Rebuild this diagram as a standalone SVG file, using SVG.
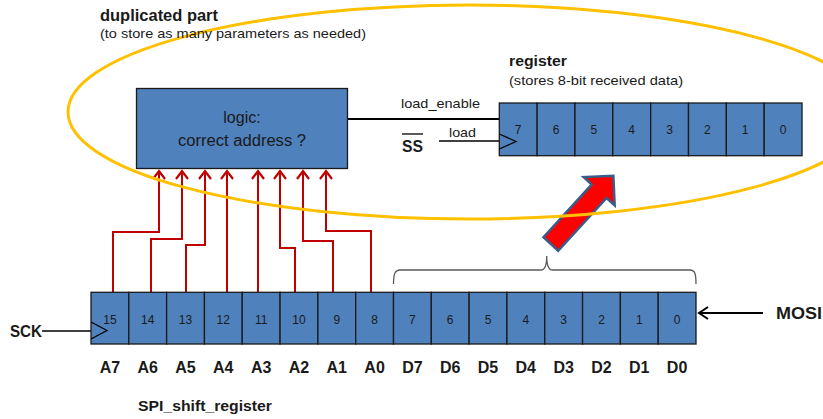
<svg xmlns="http://www.w3.org/2000/svg" width="823" height="419" viewBox="0 0 823 419">
<style>
.cell{fill:#4F81BD;stroke:#1a1a1a;stroke-width:1.3}
.num{font-family:"Liberation Sans",Arial,sans-serif;font-size:12px;fill:#1a1a1a;text-anchor:middle}
.lbl{font-family:"Liberation Sans",Arial,sans-serif;font-size:16px;font-weight:bold;fill:#1a1a1a;text-anchor:middle}
.t{font-family:"Liberation Sans",Arial,sans-serif;fill:#1a1a1a}
.b{font-weight:bold}
.red{fill:none;stroke:#C00000;stroke-width:2;marker-end:url(#chev)}
.blk{fill:none;stroke:#000;stroke-width:1.3}
</style>
<defs>
<marker id="chev" markerUnits="userSpaceOnUse" markerWidth="20" markerHeight="20" refX="0" refY="0" orient="auto" overflow="visible">
<path d="M-8,-6 L0,0 L-8,6" fill="none" stroke="#C00000" stroke-width="2.2"/>
</marker>
<marker id="chevk" markerUnits="userSpaceOnUse" markerWidth="20" markerHeight="20" refX="0" refY="0" orient="auto" overflow="visible">
<path d="M-9,-6 L0,0 L-9,6" fill="none" stroke="#000" stroke-width="2"/>
</marker>
</defs>
<rect width="823" height="419" fill="#fff"/>

<g id="connectors">
<path class="red" d="M113,292 V232 H159 V171"/>
<path class="red" d="M151,292 V239 H182 V171"/>
<path class="red" d="M186,292 V245 H205 V171"/>
<path class="red" d="M227,292 V171"/>
<path class="red" d="M258,292 V171"/>
<path class="red" d="M295,292 V248 H280 V171"/>
<path class="red" d="M333,292 V241 H303 V171"/>
<path class="red" d="M371,292 V231 H326 V171"/>
<line x1="348" y1="119" x2="499" y2="119" stroke="#000" stroke-width="2.2"/>
<line x1="439" y1="141" x2="499" y2="141" class="blk"/>
<line x1="42" y1="331" x2="91" y2="331" class="blk"/>
<line x1="763" y1="313" x2="699" y2="313" stroke="#000" stroke-width="2" marker-end="url(#chevk)"/>
<path d="M393.5,284 C393.5,274 395,270 400,270 H541 C545,270 546.7,266 546.7,256 C546.7,266 548.5,270 552.5,270 H690 C695,270 696,274 696,284" fill="none" stroke="#595959" stroke-width="1.3"/>
<polygon transform="translate(550.8,244) rotate(-47.5)" points="0,-10 71.6,-10 71.6,-21 92.6,0 71.6,21 71.6,10 0,10" fill="#FF0000" stroke="#385D8A" stroke-width="2.5" stroke-linejoin="miter"/>
</g>

<g id="logic">
<rect x="136.5" y="88.5" width="211" height="80" class="cell"/>
<text class="t" x="242" y="123" font-size="16" text-anchor="middle">logic:</text>
<text class="t" x="242" y="145.5" font-size="16" text-anchor="middle" textLength="128" lengthAdjust="spacingAndGlyphs">correct address ?</text>
</g>

<g id="register">
<rect x="499.3" y="103" width="37.84" height="52.7" class="cell"/>
<rect x="537.14" y="103" width="37.84" height="52.7" class="cell"/>
<rect x="574.98" y="103" width="37.84" height="52.7" class="cell"/>
<rect x="612.82" y="103" width="37.84" height="52.7" class="cell"/>
<rect x="650.66" y="103" width="37.84" height="52.7" class="cell"/>
<rect x="688.5" y="103" width="37.84" height="52.7" class="cell"/>
<rect x="726.34" y="103" width="37.84" height="52.7" class="cell"/>
<rect x="764.18" y="103" width="37.84" height="52.7" class="cell"/>
<path d="M499.3,134 L516,141.5 L499.3,149" class="blk"/>
<text class="num" x="518.2" y="134">7</text>
<text class="num" x="556.0" y="134">6</text>
<text class="num" x="593.9" y="134">5</text>
<text class="num" x="631.7" y="134">4</text>
<text class="num" x="669.6" y="134">3</text>
<text class="num" x="707.4" y="134">2</text>
<text class="num" x="745.2" y="134">1</text>
<text class="num" x="783.1" y="134">0</text>
<text class="t b" x="509" y="66" font-size="15.5" textLength="58" lengthAdjust="spacingAndGlyphs">register</text>
<text class="t" x="509" y="84.5" font-size="13" textLength="174" lengthAdjust="spacingAndGlyphs">(stores 8-bit received data)</text>
</g>

<g id="shift_register">
<rect x="91" y="292.3" width="37.81" height="51.7" class="cell"/>
<rect x="128.81" y="292.3" width="37.81" height="51.7" class="cell"/>
<rect x="166.63" y="292.3" width="37.81" height="51.7" class="cell"/>
<rect x="204.44" y="292.3" width="37.81" height="51.7" class="cell"/>
<rect x="242.25" y="292.3" width="37.81" height="51.7" class="cell"/>
<rect x="280.06" y="292.3" width="37.81" height="51.7" class="cell"/>
<rect x="317.88" y="292.3" width="37.81" height="51.7" class="cell"/>
<rect x="355.69" y="292.3" width="37.81" height="51.7" class="cell"/>
<rect x="393.5" y="292.3" width="37.81" height="51.7" class="cell"/>
<rect x="431.31" y="292.3" width="37.81" height="51.7" class="cell"/>
<rect x="469.13" y="292.3" width="37.81" height="51.7" class="cell"/>
<rect x="506.94" y="292.3" width="37.81" height="51.7" class="cell"/>
<rect x="544.75" y="292.3" width="37.81" height="51.7" class="cell"/>
<rect x="582.56" y="292.3" width="37.81" height="51.7" class="cell"/>
<rect x="620.38" y="292.3" width="37.81" height="51.7" class="cell"/>
<rect x="658.19" y="292.3" width="37.81" height="51.7" class="cell"/>
<path d="M91,322 L107,330.5 L91,339" class="blk"/>
<text class="num" x="109.9" y="323.5">15</text>
<text class="num" x="147.7" y="323.5">14</text>
<text class="num" x="185.5" y="323.5">13</text>
<text class="num" x="223.3" y="323.5">12</text>
<text class="num" x="261.2" y="323.5">11</text>
<text class="num" x="299.0" y="323.5">10</text>
<text class="num" x="336.8" y="323.5">9</text>
<text class="num" x="374.6" y="323.5">8</text>
<text class="num" x="412.4" y="323.5">7</text>
<text class="num" x="450.2" y="323.5">6</text>
<text class="num" x="488.0" y="323.5">5</text>
<text class="num" x="525.8" y="323.5">4</text>
<text class="num" x="563.7" y="323.5">3</text>
<text class="num" x="601.5" y="323.5">2</text>
<text class="num" x="639.3" y="323.5">1</text>
<text class="num" x="677.1" y="323.5">0</text>
<text class="lbl" x="109.9" y="373">A7</text>
<text class="lbl" x="147.7" y="373">A6</text>
<text class="lbl" x="185.5" y="373">A5</text>
<text class="lbl" x="223.3" y="373">A4</text>
<text class="lbl" x="261.2" y="373">A3</text>
<text class="lbl" x="299.0" y="373">A2</text>
<text class="lbl" x="336.8" y="373">A1</text>
<text class="lbl" x="374.6" y="373">A0</text>
<text class="lbl" x="412.4" y="373">D7</text>
<text class="lbl" x="450.2" y="373">D6</text>
<text class="lbl" x="488.0" y="373">D5</text>
<text class="lbl" x="525.8" y="373">D4</text>
<text class="lbl" x="563.7" y="373">D3</text>
<text class="lbl" x="601.5" y="373">D2</text>
<text class="lbl" x="639.3" y="373">D1</text>
<text class="lbl" x="677.1" y="373">D0</text>
<text class="t b" x="138" y="410.5" font-size="15" textLength="134" lengthAdjust="spacingAndGlyphs">SPI_shift_register</text>
</g>

<ellipse id="duplicated_part" cx="469" cy="112" rx="401" ry="107" fill="none" stroke="#FFC000" stroke-width="3"/>

<g id="labels">
<text class="t b" x="100" y="20.5" font-size="16" textLength="118" lengthAdjust="spacingAndGlyphs">duplicated part</text>
<text class="t" x="100" y="37.5" font-size="13.5" textLength="266" lengthAdjust="spacingAndGlyphs">(to store as many parameters as needed)</text>
<text class="t" x="401" y="107.5" font-size="13" textLength="79" lengthAdjust="spacingAndGlyphs">load_enable</text>
<text class="t" x="449" y="137" font-size="13" textLength="27" lengthAdjust="spacingAndGlyphs">load</text>
<text class="t b" x="402" y="151.5" font-size="16" textLength="21" lengthAdjust="spacingAndGlyphs">SS</text>
<line x1="402" y1="134" x2="423" y2="134" stroke="#000" stroke-width="1.3"/>
<text class="t b" x="10" y="337" font-size="17" textLength="32" lengthAdjust="spacingAndGlyphs">SCK</text>
<text class="t b" x="776" y="319" font-size="17" textLength="46" lengthAdjust="spacingAndGlyphs">MOSI</text>
</g>
</svg>
